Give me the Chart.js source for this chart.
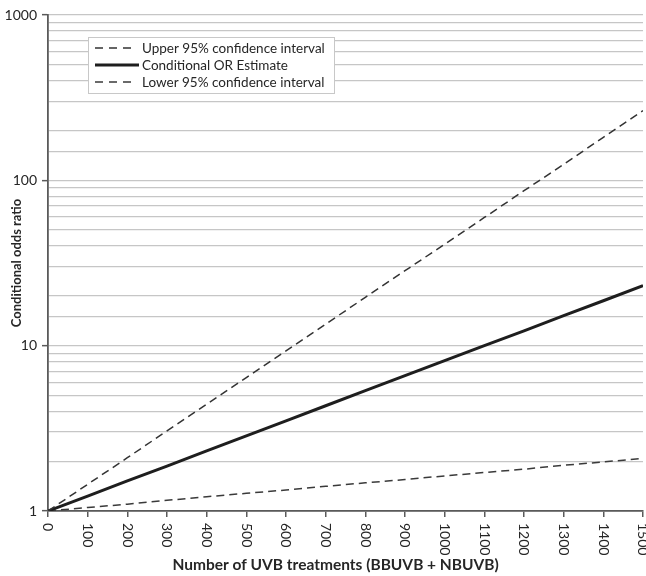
<!DOCTYPE html>
<html>
<head>
<meta charset="utf-8">
<script src="https://cdn.jsdelivr.net/npm/chart.js@4/dist/chart.umd.min.js"></script>
<style>
  html, body { margin: 0; padding: 0; background: #fff; }
  #wrap { width: 646px; height: 576px; position: relative; }
</style>
</head>
<body>
<div id="wrap"><canvas id="chart"></canvas></div>
<script>
// treatments (x) and odds ratios
var treatments = [0, 100, 200, 300, 400, 500, 600, 700, 800, 900, 1000, 1100, 1200, 1300, 1400, 1500]
var upperCI = [1, 1.45, 2.10, 3.05, 4.42, 6.41, 9.3, 13.5, 19.6, 28.4, 41.1, 59.6, 86.5, 125, 182, 264]
var estimate = [1, 1.23, 1.52, 1.87, 2.31, 2.85, 3.51, 4.33, 5.34, 6.58, 8.11, 10.0, 12.3, 15.2, 18.7, 23.1]
var lowerCI = [1, 1.05, 1.10, 1.16, 1.22, 1.28, 1.34, 1.41, 1.48, 1.55, 1.63, 1.71, 1.79, 1.89, 1.98, 2.08]
var seriesNames = ['Upper 95% confidence interval', 'Conditional OR Estimate', 'Lower 95% confidence interval']
var yLabels = [1, 10, 100, 1000]
var xTitle = 'Number of UVB treatments (BBUVB + NBUVB)'

var FONT = 'Lato, "Open Sans", sans-serif'
var TEXT = '#262626'
var AXIS = '#5a5a5a'

function pts(vals){
  return treatments.map(function(t, i){ return {x: t, y: vals[i]} })
}

// x tick labels read top-to-bottom in the original, so draw them by hand
// (the axis title too, it sits a little left of the plot centre)
var xLabelPlugin = {
  id: 'xLabels',
  afterDraw: function(chart){
    var ctx = chart.ctx
    var sx = chart.scales.x
    ctx.save()
    ctx.fillStyle = TEXT
    ctx.font = '14px ' + FONT
    ctx.textAlign = 'left'
    ctx.textBaseline = 'middle'
    sx.ticks.forEach(function(t){
      var px = sx.getPixelForValue(t.value)
      ctx.save()
      ctx.translate(px, sx.top + 12)
      ctx.rotate(Math.PI/2)
      ctx.fillText(String(t.value), 0, 0)
      ctx.restore()
    })
    ctx.font = 'bold 15.5px ' + FONT
    ctx.textAlign = 'center'
    ctx.fillText(xTitle, sx.getPixelForValue(725), sx.bottom - 11)
    ctx.restore()
  }
}

// boxed legend sitting inside the plot
var legendPlugin = {
  id: 'boxLegend',
  afterDraw: function(chart){
    var ctx = chart.ctx
    var x0 = 88, y0 = 37, w = 246, h = 56
    ctx.save()
    ctx.fillStyle = '#fff'
    ctx.fillRect(x0, y0, w, h)
    ctx.strokeStyle = '#c8c8c8'
    ctx.lineWidth = 1
    ctx.strokeRect(x0 + 0.5, y0 + 0.5, w, h)
    ctx.font = '13.5px ' + FONT
    ctx.textBaseline = 'middle'
    ctx.textAlign = 'left'
    chart.data.datasets.forEach(function(ds, i){
      var y = y0 + 11 + i * 17
      ctx.beginPath()
      ctx.lineWidth = ds.borderWidth
      ctx.strokeStyle = ds.borderColor
      if(ds.borderDash){
        ctx.setLineDash([8, 6])
        ctx.moveTo(x0 + 7, y)
        ctx.lineTo(x0 + 45, y)
      } else {
        ctx.moveTo(x0 + 7, y)
        ctx.lineTo(x0 + 51, y)
      }
      ctx.stroke()
      ctx.setLineDash([])
      ctx.fillStyle = TEXT
      ctx.fillText(ds.label, x0 + 54, y + 1)
    })
    ctx.restore()
  }
}

var ctx = document.getElementById('chart').getContext('2d')
var chart = new Chart(ctx, {
  type: 'line',
  data: {
    datasets: [
      { label: seriesNames[0], data: pts(upperCI), borderColor: '#333', borderWidth: 1.5, borderDash: [8, 5], pointRadius: 0, fill: false, tension: 0 },
      { label: seriesNames[1], data: pts(estimate), borderColor: '#1e1e1e', borderWidth: 3, pointRadius: 0, fill: false, tension: 0 },
      { label: seriesNames[2], data: pts(lowerCI), borderColor: '#3a3a3a', borderWidth: 1.5, borderDash: [8, 5], pointRadius: 0, fill: false, tension: 0 }
    ]
  },
  options: {
    responsive: true,
    maintainAspectRatio: false,
    animation: false,
    layout: { padding: { top: 15, right: 3, left: 0, bottom: 0 } },
    plugins: {
      legend: { display: false },
      tooltip: { enabled: false }
    },
    scales: {
      x: {
        type: 'linear',
        min: 0,
        max: 1500,
        border: { color: AXIS, width: 1.8 },
        grid: { drawOnChartArea: false, drawTicks: true, tickLength: 6, color: AXIS, lineWidth: 1.5 },
        ticks: { stepSize: 100, autoSkip: false, display: false },
        title: { display: false },
        afterFit: function(s){ s.height = 65 }
      },
      y: {
        type: 'logarithmic',
        min: 1,
        max: 1000,
        border: { color: AXIS, width: 1.8 },
        grid: {
          color: '#c6c6c6',
          lineWidth: 1.3,
          tickLength: 6,
          tickColor: function(c){
            var v = c.tick ? c.tick.value : 0
            return yLabels.indexOf(v) >= 0 ? AXIS : 'rgba(0,0,0,0)'
          },
          tickWidth: 1.5
        },
        ticks: {
          autoSkip: false,
          color: TEXT,
          font: { size: 14, family: FONT },
          padding: 5,
          callback: function(v){ return yLabels.indexOf(v) >= 0 ? String(v) : '' }
        },
        title: { display: true, text: 'Conditional odds ratio', color: TEXT, font: { size: 13, weight: 'bold', family: FONT }, padding: { top: 9, bottom: 0 } },
        afterFit: function(s){ s.width = 48 }
      }
    }
  },
  plugins: [xLabelPlugin, legendPlugin]
})
</script>
</body>
</html>
